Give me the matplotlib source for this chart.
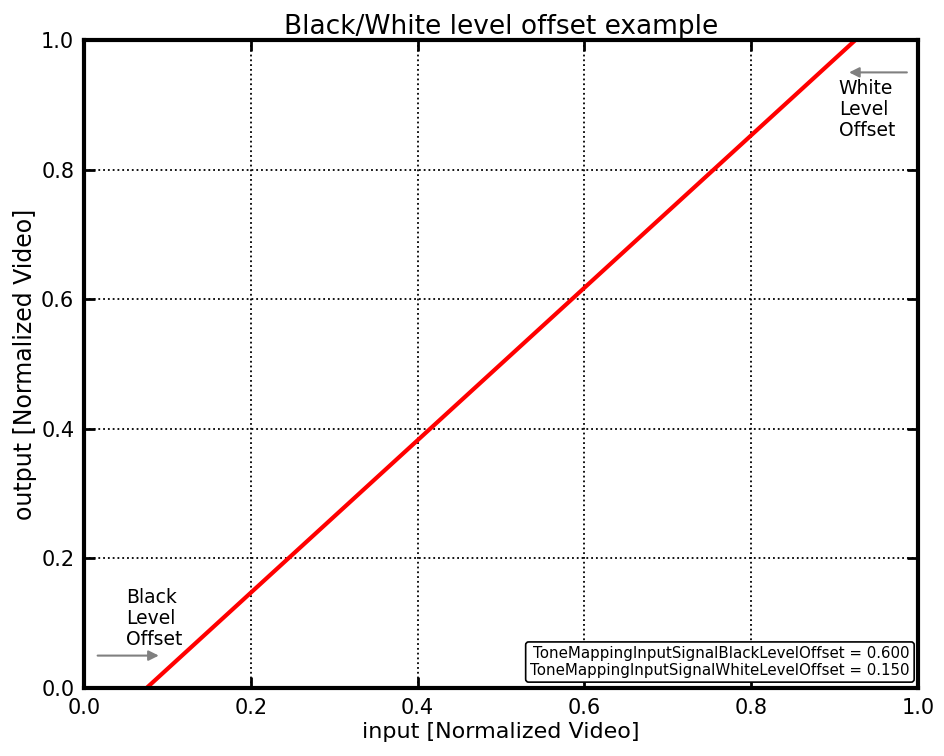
import matplotlib
matplotlib.use("Agg")
import matplotlib.pyplot as plt

input_vals = [0.075, 0.925]
output_vals = [0.0, 1.0]
black_offset = 0.600
white_offset = 0.150
ticks = [0.0, 0.2, 0.4, 0.6, 0.8, 1.0]

fig = plt.figure(figsize=(9.45, 7.56), dpi=100)
ax = fig.add_axes([84/945, 1-688/756, 834/945, 648/756])
ax.plot(input_vals, output_vals, color="red", lw=3)
ax.set_xlim(0, 1)
ax.set_ylim(0, 1)
ax.set_xticks(ticks)
ax.set_yticks(ticks)
ax.grid(True, linestyle=":", color="black", lw=1.3)
for s in ax.spines.values():
    s.set_linewidth(3)
ax.tick_params(direction="in", length=8, width=2, labelsize=15, pad=7,
               top=True, right=True)
ax.set_title("Black/White level offset example", fontsize=19, pad=4)
ax.set_xlabel("input [Normalized Video]", fontsize=16, labelpad=3)
ax.set_ylabel("output [Normalized Video]", fontsize=17, labelpad=3)

ax.annotate("", xy=(0.093, 0.05), xytext=(0.013, 0.05),
            arrowprops=dict(arrowstyle="-|>", color="gray", lw=1.5, mutation_scale=15))
ax.text(0.05, 0.155, "Black\nLevel\nOffset", fontsize=13.5, va="top", ha="left",
        multialignment="left", linespacing=1.15)
ax.annotate("", xy=(0.914, 0.95), xytext=(0.99, 0.95),
            arrowprops=dict(arrowstyle="-|>", color="gray", lw=1.5, mutation_scale=15))
ax.text(0.905, 0.94, "White\nLevel\nOffset", fontsize=13.5, va="top", ha="left",
        multialignment="left", linespacing=1.15)

ax.text(0.99, 0.016,
        f"ToneMappingInputSignalBlackLevelOffset = {black_offset:.3f}\n"
        f"ToneMappingInputSignalWhiteLevelOffset = {white_offset:.3f}",
        fontsize=10.8, ha="right", va="bottom", multialignment="right", linespacing=1.1,
        bbox=dict(boxstyle="round,pad=0.3,rounding_size=0.2", fc="white", ec="black", lw=1.2))

fig.savefig("out.png", dpi=100)
